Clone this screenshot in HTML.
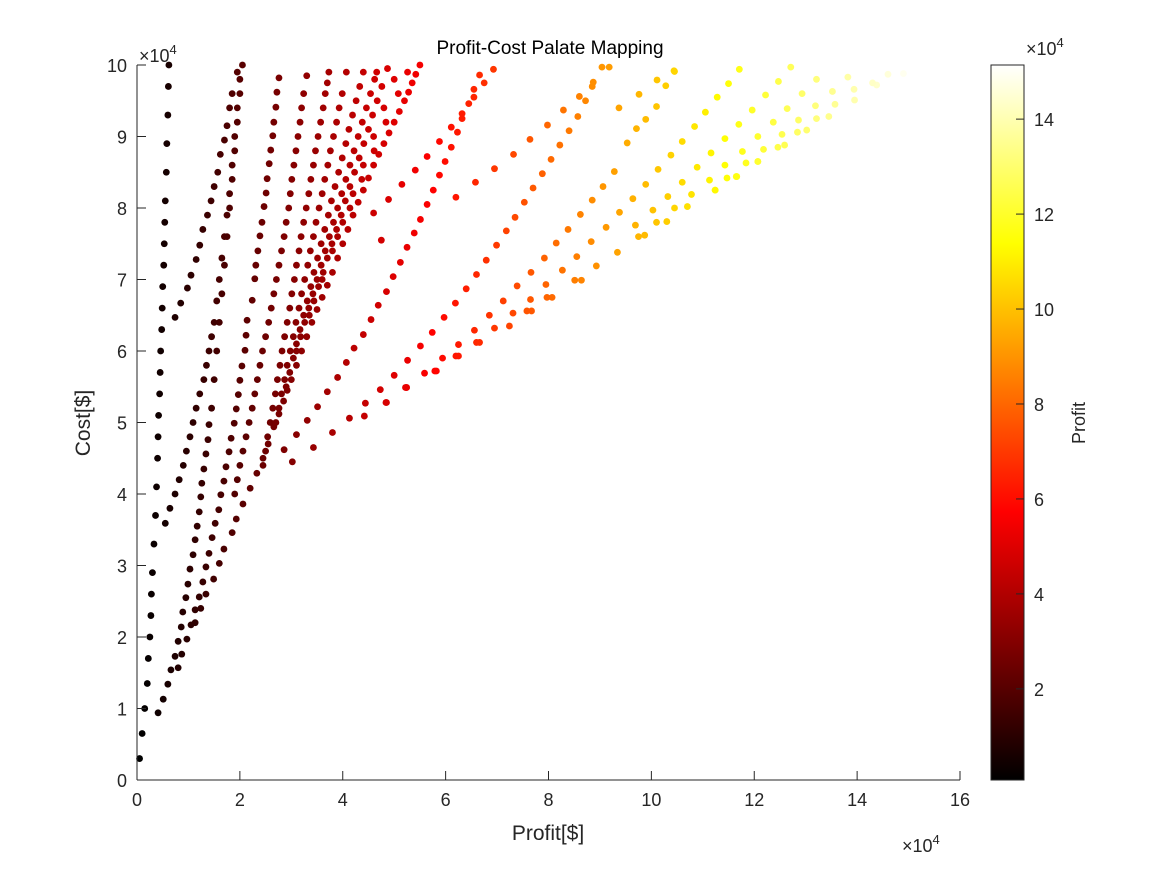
<!DOCTYPE html>
<html><head><meta charset="utf-8"><style>
html,body{margin:0;padding:0;background:#fff;}
svg{display:block;font-family:"Liberation Sans",sans-serif;}
</style></head><body>
<svg id="chart" width="1167" height="875" viewBox="0 0 1167 875" xmlns="http://www.w3.org/2000/svg">
<defs>
<linearGradient id="hotGrad" x1="0" y1="1" x2="0" y2="0">
<stop offset="0" stop-color="#000"/>
<stop offset="0.375" stop-color="#f00"/>
<stop offset="0.75" stop-color="#ff0"/>
<stop offset="1" stop-color="#fff"/>
</linearGradient>
</defs>
<g id="dots"></g>
<g id="axes"></g>
<text x="550" y="54" text-anchor="middle" font-size="19" fill="#000">Profit-Cost Palate Mapping</text>
<text x="548" y="840" text-anchor="middle" font-size="21" fill="#262626">Profit[$]</text>
<text transform="translate(90,423) rotate(-90)" text-anchor="middle" font-size="21" fill="#262626">Cost[$]</text>
<text x="139" y="62" font-size="18" fill="#262626">×10<tspan dy="-8" font-size="13">4</tspan></text>
<text x="902" y="852" font-size="18" fill="#262626">×10<tspan dy="-8" font-size="13">4</tspan></text>
<text x="1026" y="55" font-size="18" fill="#262626">×10<tspan dy="-8" font-size="13">4</tspan></text>
<rect x="991" y="65" width="33" height="715" fill="url(#hotGrad)" stroke="#262626" stroke-width="1"/>
<g id="cbar"></g>
<text transform="translate(1085,423) rotate(-90)" text-anchor="middle" font-size="18" fill="#262626">Profit</text>
</svg>
<script>
const xTicks = [0,2,4,6,8,10,12,14,16];
const yTicks = [0,1,2,3,4,5,6,7,8,9,10];
const cTicks = [2,4,6,8,10,12,14];
const cMin = 0.08, cMax = 15.14;

const streakA = [[0.05,0.3],[0.1,0.65],[0.15,1.0],[0.2,1.35],[0.22,1.7],[0.25,2.0],[0.27,2.3],[0.28,2.6],[0.3,2.9],[0.33,3.3],[0.36,3.7],[0.38,4.1],[0.4,4.5],[0.41,4.8],[0.42,5.1],[0.44,5.4],[0.45,5.7],[0.46,6.0],[0.48,6.3],[0.49,6.6],[0.5,6.9],[0.52,7.2],[0.53,7.5],[0.54,7.8],[0.55,8.1],[0.57,8.5],[0.58,8.9],[0.6,9.3],[0.61,9.7],[0.62,10.0]];
const streakB = [[0.41,0.94],[0.6,1.34],[0.66,1.54],[0.74,1.73],[0.8,1.94],[0.86,2.14],[0.89,2.35],[0.95,2.55],[0.99,2.74],[1.03,2.95],[1.09,3.15],[1.13,3.36],[1.17,3.55],[1.21,3.75],[1.24,3.96],[1.26,4.15],[1.3,4.35],[1.34,4.56],[1.38,4.76],[1.4,4.97],[1.45,5.2],[1.5,5.6],[1.55,6.0],[1.6,6.4],[1.65,6.8],[1.7,7.2],[1.75,7.6],[1.8,8.0],[1.85,8.4],[1.9,8.8],[1.95,9.2],[2.0,9.6],[2.05,10.0]];
const streakC = [[0.55,3.59],[0.64,3.8],[0.74,4.0],[0.82,4.2],[0.9,4.4],[0.96,4.6],[1.03,4.8],[1.09,5.0],[1.15,5.2],[1.22,5.4],[1.3,5.6],[1.35,5.8],[1.4,6.0],[1.45,6.2],[1.5,6.4],[1.55,6.7],[1.6,7.0],[1.65,7.3],[1.7,7.6],[1.75,7.9],[1.8,8.2],[1.85,8.6],[1.9,9.0],[1.95,9.4],[2.0,9.8]];
const streakD = [[0.74,6.47],[0.85,6.67],[0.98,6.88],[1.05,7.06],[1.15,7.28],[1.22,7.48],[1.28,7.7],[1.37,7.9],[1.44,8.1],[1.5,8.3],[1.57,8.5],[1.62,8.75],[1.7,8.95],[1.75,9.15],[1.8,9.4],[1.85,9.6],[1.95,9.9]];
const streakE = [[0.8,1.57],[0.87,1.76],[0.97,1.97],[1.05,2.17],[1.13,2.38],[1.21,2.56],[1.28,2.77],[1.34,2.98],[1.4,3.17],[1.46,3.39],[1.52,3.59],[1.59,3.78],[1.63,3.99],[1.69,4.18],[1.73,4.38],[1.79,4.59],[1.83,4.78],[1.89,4.99],[1.93,5.19],[1.97,5.39],[2.0,5.59],[2.04,5.79],[2.1,6.01],[2.12,6.22],[2.14,6.43],[2.24,6.71],[2.29,7.01],[2.31,7.2],[2.35,7.4],[2.39,7.61],[2.43,7.8],[2.47,8.02],[2.51,8.21],[2.53,8.41],[2.57,8.62],[2.6,8.81],[2.64,9.01],[2.66,9.2],[2.7,9.41],[2.72,9.62],[2.76,9.82]];
const lowerEdge = [[0.51,1.13],[1.13,2.2],[1.24,2.4],[1.34,2.6],[1.49,2.81],[1.6,3.03],[1.69,3.23],[1.85,3.46],[1.93,3.65],[2.06,3.86],[2.2,4.08],[2.33,4.29],[2.45,4.5],[2.55,4.7],[2.66,4.94],[2.76,5.12],[2.85,5.3],[2.92,5.45],[3.0,5.6],[3.1,5.8],[3.2,6.0],[3.3,6.2],[3.4,6.4],[3.5,6.58],[3.6,6.75],[3.7,6.92],[3.8,7.1],[3.9,7.3],[4.0,7.5],[4.1,7.7],[4.2,7.9],[4.3,8.08],[4.4,8.25],[4.5,8.42],[4.6,8.6],[4.7,8.75],[4.8,8.9],[4.9,9.05],[5.0,9.2],[5.1,9.35],[5.2,9.5],[5.28,9.62],[5.35,9.75],[5.42,9.87],[5.5,10.0]];
const col4 = [[1.9,4.0],[1.95,4.2],[2.0,4.4],[2.06,4.6],[2.12,4.8],[2.18,5.0],[2.24,5.2],[2.34,5.6],[2.44,6.0],[2.56,6.4],[2.66,6.8],[2.76,7.2],[2.86,7.6],[2.95,8.0],[3.01,8.4],[3.09,8.8],[3.17,9.2],[3.24,9.6],[3.3,9.85]];
const col4b = [[2.29,5.4],[2.39,5.8],[2.5,6.2],[2.61,6.6],[2.71,7.0],[2.81,7.4],[2.9,7.8],[2.98,8.2],[3.05,8.6],[3.13,9.0],[3.2,9.4]];
const col5 = [[2.45,4.4],[2.54,4.8],[2.64,5.2],[2.73,5.6],[2.82,6.0],[2.92,6.4],[3.01,6.8],[3.1,7.2],[3.19,7.6],[3.29,8.0],[3.38,8.4],[3.47,8.8],[3.57,9.2],[3.66,9.6],[3.73,9.9]];
const col5b = [[2.5,4.6],[2.59,5.0],[2.69,5.4],[2.78,5.8],[2.87,6.2],[2.97,6.6],[3.06,7.0],[3.15,7.4],[3.24,7.8],[3.34,8.2],[3.43,8.6],[3.52,9.0],[3.62,9.4],[3.7,9.75]];
const col6 = [[2.7,5.0],[2.81,5.4],[2.92,5.8],[3.04,6.2],[3.15,6.6],[3.26,7.0],[3.37,7.4],[3.48,7.8],[3.6,8.2],[3.71,8.6],[3.82,9.0],[3.93,9.4],[4.07,9.9]];
const col6b = [[2.76,5.2],[2.87,5.6],[2.98,6.0],[3.09,6.4],[3.2,6.8],[3.32,7.2],[3.43,7.6],[3.54,8.0],[3.65,8.4],[3.76,8.8],[3.88,9.2],[3.99,9.6]];
const col7 = [[2.9,5.5],[3.04,5.9],[3.17,6.3],[3.31,6.7],[3.44,7.1],[3.58,7.5],[3.72,7.9],[3.85,8.3],[3.99,8.7],[4.12,9.1],[4.26,9.5],[4.4,9.9]];
const col7b = [[2.97,5.7],[3.1,6.1],[3.24,6.5],[3.38,6.9],[3.51,7.3],[3.65,7.7],[3.78,8.1],[3.92,8.5],[4.06,8.9],[4.19,9.3],[4.33,9.7]];
const col8 = [[3.1,6.0],[3.26,6.4],[3.42,6.8],[3.58,7.2],[3.74,7.6],[3.9,8.0],[4.06,8.4],[4.22,8.8],[4.38,9.2],[4.54,9.6],[4.66,9.9]];
const col8b = [[3.18,6.2],[3.34,6.6],[3.5,7.0],[3.66,7.4],[3.82,7.8],[3.98,8.2],[4.14,8.6],[4.3,9.0],[4.46,9.4],[4.62,9.8]];
const col9 = [[3.35,6.5],[3.53,6.9],[3.7,7.3],[3.88,7.7],[4.05,8.1],[4.23,8.5],[4.41,8.9],[4.58,9.3],[4.76,9.7],[4.87,9.95]];
const col9b = [[3.44,6.7],[3.62,7.1],[3.79,7.5],[3.97,7.9],[4.14,8.3],[4.32,8.7],[4.5,9.1],[4.67,9.5]];
const col10 = [[3.6,7.0],[3.8,7.4],[4.0,7.8],[4.2,8.2],[4.4,8.6],[4.6,9.0],[4.8,9.4],[5.0,9.8]];
const col11 = [[3.9,7.6],[4.14,8.0],[4.37,8.4],[4.61,8.8],[4.84,9.2],[5.08,9.6],[5.26,9.9]];
const streakP1 = [[2.86,4.62],[3.1,4.83],[3.31,5.03],[3.51,5.22],[3.7,5.43],[3.9,5.63],[4.07,5.84],[4.22,6.04],[4.4,6.23],[4.55,6.44],[4.69,6.64],[4.85,6.83],[4.98,7.04],[5.12,7.24],[5.25,7.45],[5.39,7.65],[5.51,7.84],[5.64,8.05],[5.76,8.25],[5.88,8.46],[5.99,8.65],[6.11,8.85],[6.23,9.06],[6.32,9.25],[6.45,9.46],[6.55,9.66],[6.66,9.86]];
const streakP2 = [[3.02,4.45],[3.43,4.65],[3.8,4.86],[4.13,5.06],[4.44,5.27],[4.73,5.46],[5.0,5.66],[5.26,5.87],[5.51,6.07],[5.74,6.26],[5.97,6.47],[6.19,6.67],[6.4,6.87],[6.6,7.07],[6.79,7.27],[6.99,7.48],[7.18,7.68],[7.35,7.87],[7.53,8.08],[7.7,8.28],[7.88,8.48],[8.05,8.68],[8.22,8.88],[8.4,9.08],[8.57,9.28],[8.72,9.5],[8.85,9.7],[9.04,9.97]];
const streakR1 = [[4.75,7.55],[4.6,7.93],[4.89,8.12],[5.15,8.33],[5.41,8.53],[5.64,8.72],[5.88,8.93],[6.11,9.13],[6.32,9.32],[6.55,9.55],[6.75,9.75],[6.93,9.94]];
const streakQ1 = [[6.2,8.15],[6.58,8.36],[6.95,8.55],[7.32,8.75],[7.64,8.96],[7.98,9.16],[8.29,9.37],[8.6,9.56],[8.87,9.76],[9.18,9.97]];
const streakP3 = [[4.42,5.09],[4.85,5.28],[5.24,5.49],[5.59,5.69],[5.94,5.9],[6.25,6.09],[6.56,6.29],[6.85,6.5],[7.12,6.7],[7.39,6.91],[7.66,7.1],[7.92,7.3],[8.15,7.51],[8.38,7.7],[8.62,7.91],[8.85,8.11],[9.06,8.3],[9.28,8.51],[9.53,8.91],[9.71,9.11],[9.89,9.24],[10.1,9.42],[10.28,9.71],[10.45,9.91],[9.37,9.4],[9.76,9.59],[10.11,9.79],[10.44,9.92]];
const streakT3 = [[4.84,5.28],[5.22,5.49],[5.79,5.72],[6.2,5.93],[6.6,6.12],[6.95,6.32],[7.31,6.53],[7.65,6.72],[7.95,6.93],[8.27,7.13],[8.55,7.32],[8.83,7.53],[9.12,7.73],[9.38,7.94],[9.64,8.13],[9.89,8.33],[10.13,8.54],[10.38,8.74],[10.6,8.93],[10.84,9.14],[11.05,9.34],[11.28,9.55],[11.5,9.74],[11.71,9.94]];
const streakP4 = [[5.24,5.49],[5.82,5.72],[6.25,5.93],[6.66,6.12],[7.24,6.35],[7.67,6.56],[8.07,6.75],[8.64,6.99],[8.93,7.19],[9.34,7.38],[9.87,7.62],[10.3,7.81],[10.7,8.02],[11.24,8.25],[11.66,8.44],[12.07,8.65],[12.59,8.88],[13.02,9.09],[13.45,9.28],[13.95,9.51],[14.38,9.72],[7.58,6.56],[7.97,6.75],[8.51,6.99]];
const streakT4 = [[9.69,7.76],[10.03,7.97],[10.32,8.16],[10.6,8.36],[10.89,8.57],[11.16,8.77],[11.43,8.97],[11.7,9.17],[11.96,9.37],[12.22,9.58],[12.47,9.77],[12.71,9.97]];
const streakT5 = [[9.75,7.6],[10.1,7.8],[10.45,8.0],[10.78,8.19],[11.13,8.39],[11.43,8.6],[11.77,8.79],[12.07,9.0],[12.37,9.2],[12.64,9.39],[12.93,9.6],[13.21,9.8]];
const streakT6 = [[11.47,8.42],[11.84,8.63],[12.18,8.82],[12.54,9.03],[12.86,9.23],[13.19,9.43],[13.52,9.63],[13.82,9.83]];
const streakT7 = [[11.24,8.25],[11.65,8.44],[12.07,8.65],[12.46,8.85],[12.84,9.06],[13.21,9.25],[13.57,9.45],[13.94,9.66],[14.3,9.75],[14.6,9.87],[14.9,9.88]];

const allStreaks = [streakA,streakB,streakC,streakD,streakE,lowerEdge,col4,col4b,col5,col5b,col6,col6b,col7,col7b,col8,col8b,col9,col9b,col10,col11,streakP1,streakP2,streakR1,streakQ1,streakP3,streakT3,streakP4,streakT4,streakT5,streakT6,streakT7];

const NS = "http://www.w3.org/2000/svg";
const X0 = 137, XW = 823, XMAX = 16;
const Y0 = 780, YH = 715, YMAX = 10;
function xScale(v){ return X0 + v / XMAX * XW; }
function yScale(v){ return Y0 - v / YMAX * YH; }
function cScale(v){ return Y0 - (v - cMin) / (cMax - cMin) * YH; }
function hot(v){
  let t = (v - cMin) / (cMax - cMin); t = Math.max(0, Math.min(1, t));
  const r = Math.min(1, t / 0.375), g = Math.max(0, Math.min(1, (t - 0.375) / 0.375)), b = Math.max(0, Math.min(1, (t - 0.75) / 0.25));
  return `rgb(${Math.round(r*255)},${Math.round(g*255)},${Math.round(b*255)})`;
}
function mk(tag, attrs, parent){
  const e = document.createElementNS(NS, tag);
  for (const k in attrs) e.setAttribute(k, attrs[k]);
  parent.appendChild(e); return e;
}
const dots = document.getElementById('dots');
allStreaks.forEach(s => s.forEach(p => {
  const c = mk('circle', {cx: xScale(p[0]), cy: yScale(p[1]), r: 3.4, fill: hot(p[0])}, dots);
  
  
}));
const axes = document.getElementById('axes');
const xl = mk('line', {x1: X0, y1: Y0, x2: X0 + XW, y2: Y0, stroke: '#262626', 'stroke-width': 1}, axes);


const yl = mk('line', {x1: X0, y1: Y0, x2: X0, y2: Y0 - YH, stroke: '#262626', 'stroke-width': 1}, axes);


xTicks.forEach(v => {
  const x = xScale(v);
  const t = mk('line', {x1: x, y1: Y0, x2: x, y2: Y0 - 9, stroke: '#262626'}, axes);
  
  
  const l = mk('text', {x: x, y: Y0 + 26, 'text-anchor': 'middle', 'font-size': 18, fill: '#262626'}, axes);
  l.textContent = v;
  
  
});
yTicks.forEach(v => {
  const y = yScale(v);
  const t = mk('line', {x1: X0, y1: y, x2: X0 + 9, y2: y, stroke: '#262626'}, axes);
  
  
  const l = mk('text', {x: X0 - 10, y: y + 7, 'text-anchor': 'end', 'font-size': 18, fill: '#262626'}, axes);
  l.textContent = v;
  
  
});
const cbar = document.getElementById('cbar');
cTicks.forEach(v => {
  const y = cScale(v);
  const t = mk('line', {x1: 1016, y1: y, x2: 1024, y2: y, stroke: '#262626'}, cbar);
  
  
  const l = mk('text', {x: 1034, y: y + 7, 'font-size': 18, fill: '#262626'}, cbar);
  l.textContent = v;
  
  
});
</script>
</body></html>
